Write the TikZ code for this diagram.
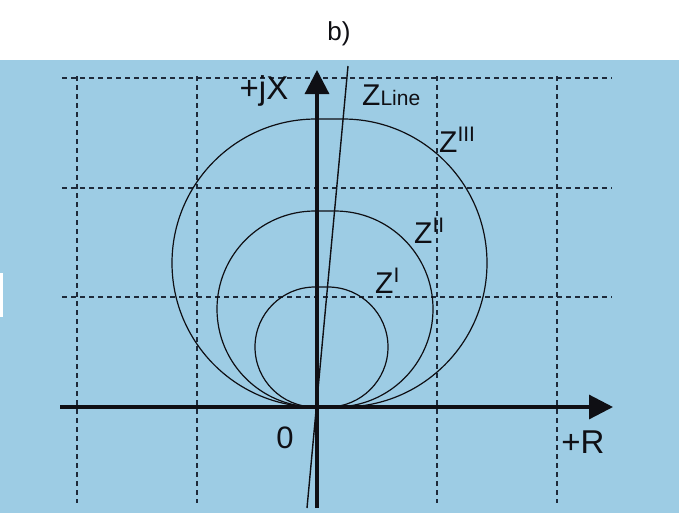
\documentclass[tikz,border=0pt]{standalone}
\usepackage{fontspec}
\setmainfont{Liberation Sans}
\usetikzlibrary{arrows.meta}
\definecolor{bgblue}{RGB}{157,204,228}
\definecolor{gridc}{RGB}{30,42,58}
\definecolor{inkc}{RGB}{15,15,20}
\newcommand{\fsz}[1]{\fontsize{#1}{#1}\selectfont}
\newcommand{\zsup}[1]{{\fsz{30}Z}{\fsz{21}\raisebox{11pt}{#1}}}
\newcommand{\locusshape}[4]{% cxL, cxR, cy, r
  \draw[locus] (#1,#3-#4) -- (#2,#3-#4)
    arc[start angle=-90,end angle=90,radius=#4]
    -- (#1,#3+#4)
    arc[start angle=90,end angle=270,radius=#4] -- cycle;}
\begin{document}
\begin{tikzpicture}[x=1pt,y=-1pt,
  gridline/.style={draw=gridc,line width=1.2pt,dash pattern=on 5pt off 4pt},
  axis/.style={draw=inkc,line width=3.2pt,-{Triangle[length=24pt,width=24pt]}},
  locus/.style={draw=inkc,line width=1.2pt},
  lbl/.style={inner sep=0pt,text=inkc}]
\useasboundingbox (0,0) rectangle (679,515);
\fill[white] (0,0) rectangle (679,515);
\fill[bgblue] (0,60) rectangle (679,513);
\fill[white] (0,273) rectangle (3,317);
% grid
\foreach \yy/\nm in {78/h1,188/h2,297/h3}{
  \coordinate (\nm a) at (62,\yy); \coordinate (\nm b) at (612,\yy);
  \draw[gridline] (\nm a) -- (\nm b);}
\foreach \xx/\nm in {77/v1,197/v2,437/v3,557/v4}{
  \coordinate (\nm a) at (\xx,76); \coordinate (\nm b) at (\xx,503);
  \draw[gridline] (\nm a) -- (\nm b);}
% loci
\locusshape{316}{343}{263}{144}
\locusshape{315}{335}{309}{98}
\locusshape{315}{328}{347}{60}
% line impedance
\coordinate (zl1) at (307,508);
\coordinate (zl2) at (348,66);
\draw[draw=inkc,line width=1.4pt] (zl1) -- (zl2);
% axes
\coordinate (O) at (317,407);
\coordinate (xs) at (60,407);
\coordinate (xe) at (613,407);
\coordinate (ys) at (317,508);
\coordinate (ye) at (317,70);
\draw[axis] (xs) -- (xe);
\draw[axis] (ys) -- (ye);
% labels
\node[lbl,anchor=base] (title) at (339,40) {\fsz{26}b)};
\node[lbl,anchor=base] (jx) at (264,99) {\fsz{33}+jX};
\node[lbl,anchor=base] (zero) at (285,448) {\fsz{31}0};
\node[lbl,anchor=base] (rr) at (583,453) {\fsz{33}+R};
\node[lbl,anchor=base west] (zline) at (362,105) {{\fsz{30}Z}{\fsz{21}Line}};
\node[lbl,anchor=base west] (z3) at (439,152) {\zsup{III}};
\node[lbl,anchor=base west] (z2) at (414,243) {\zsup{II}};
\node[lbl,anchor=base west] (z1) at (375,293) {\zsup{I}};
\end{tikzpicture}
\end{document}
